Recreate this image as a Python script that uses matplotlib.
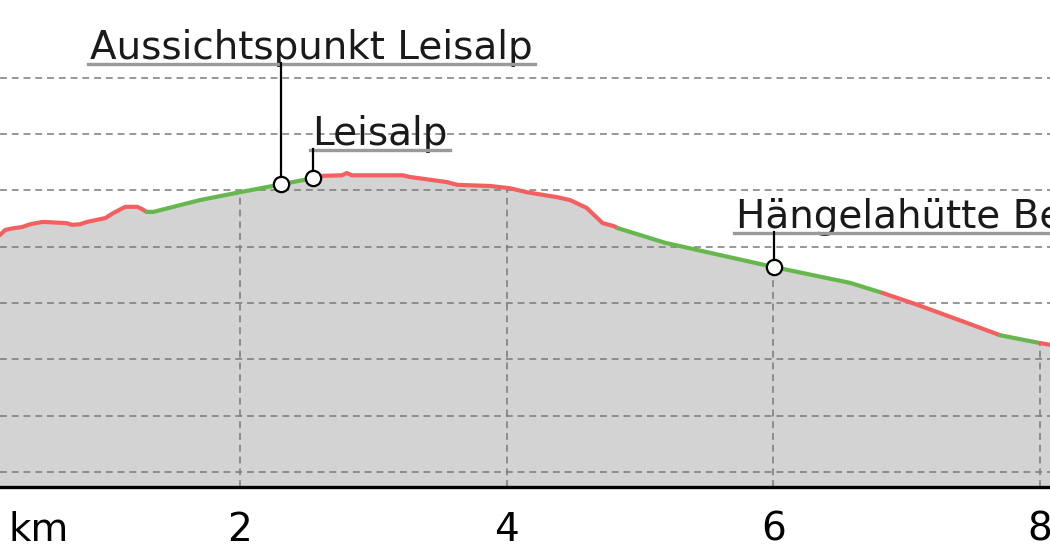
import numpy as np
import matplotlib
matplotlib.use("Agg")
import matplotlib.pyplot as plt
from matplotlib.lines import Line2D

# ---------------- data ----------------
dist_km = [0.20, 0.24, 0.30, 0.365, 0.425, 0.515, 0.54, 0.70, 0.74, 0.80, 0.85, 0.93, 0.99,
           1.05, 1.14, 1.23, 1.265, 1.30, 1.35, 1.50, 1.70, 2.00, 2.31, 2.55, 2.585, 2.62,
           2.765, 2.80, 2.84, 3.22, 3.275, 3.55, 3.63, 3.875, 4.025, 4.15, 4.38, 4.475, 4.60,
           4.68, 4.72, 4.80, 4.835, 5.19, 6.005, 6.575, 6.82, 7.08, 7.45, 7.70, 8.00, 8.075, 8.2]
elev_m = [1421, 1430, 1433, 1435, 1440, 1444, 1444, 1442, 1439, 1440, 1444, 1448, 1451,
          1460, 1471, 1471, 1467, 1462, 1462, 1471, 1483, 1497, 1511, 1522, 1524, 1526,
          1527, 1531, 1527, 1527, 1524, 1515, 1510, 1508, 1504, 1497, 1488, 1483, 1469,
          1451, 1442, 1437, 1433, 1407, 1364, 1336, 1318, 1297, 1265, 1243, 1229, 1226, 1222]

# colour segments: boundaries (km) and the colour of each segment
segment_breaks = [0.20, 1.30, 2.585, 4.835, 6.82, 7.70, 8.00, 8.2]
segment_kind = ["red", "green", "red", "green", "red", "green", "red"]

poi_names = ["Aussichtspunkt Leisalp", "Leisalp", "Hängelahütte Berghaus"]
poi_km = [2.31, 2.55, 6.005]

x_ticks = [2, 4, 6, 8]
x_tick_labels = ["2", "4", "6", "8"]
grid_levels = [1000, 1100, 1200, 1300, 1400, 1500, 1600, 1700]

# ---------------- style ----------------
RED = "#f45f5f"
GREEN = "#66b84e"
FILL = "#d3d3d3"
GRID = "#7a7a7a"
FS = 28

fig = plt.figure(figsize=(10.5, 5.6), dpi=100)
ax = fig.add_axes([0, 73 / 560, 1, 487 / 560])
ax.set_xlim(0.2, 8.075)
ax.set_ylim(973.4, 1838.3)
for s in ax.spines.values():
    s.set_visible(False)
ax.set_yticks([])

x = np.array(dist_km)
y = np.array(elev_m)
ax.fill_between(x, y, 900, color=FILL, lw=0, zorder=1)

# horizontal dashed grid
for g in grid_levels:
    ax.axhline(g, color=GRID, lw=1.1, linestyle=(0, (4.5, 3.2)), zorder=2)
# vertical dashed grid under profile
ax.vlines(x_ticks, 973.4, np.interp(x_ticks, x, y), color=GRID, lw=1.1,
          linestyles=[(0, (4.5, 3.2))], zorder=2)

# baseline
ax.axhline(973.4, color="black", lw=2.4, zorder=5, clip_on=False)

# coloured profile
cmap = {"red": RED, "green": GREEN}
for i, kind in enumerate(segment_kind):
    a, b = segment_breaks[i], segment_breaks[i + 1]
    m = (x >= a - 1e-9) & (x <= b + 1e-9)
    ax.plot(x[m], y[m], color=cmap[kind], lw=3.0, solid_capstyle="round",
            solid_joinstyle="round", zorder=3)

# ticks
ax.set_xticks(x_ticks)
ax.set_xticklabels(x_tick_labels, fontsize=FS)
ax.tick_params(axis="x", length=0, pad=17)
fig.text(8 / 1050, 1 - 541 / 560, "km", fontsize=FS, ha="left", va="baseline")

# markers
poi_elev = np.interp(poi_km, x, y)
ax.plot(poi_km, poi_elev, "o", ms=11, mfc="white", mec="black", mew=1.6, zorder=6)

# labels (pixel offsets relative to marker: text left dx, underline height dy)
label_dx = [-191, -1, -38]
label_dy = [121, 29, 35]
fig.canvas.draw()
renderer = fig.canvas.get_renderer()
inv = fig.transFigure.inverted()
for name, kx, ey, dx, dy in zip(poi_names, poi_km, poi_elev, label_dx, label_dy):
    px, py = ax.transData.transform((kx, ey))
    t = ax.annotate(name, xy=(kx, ey), xytext=(dx, dy + 4), textcoords="offset pixels",
                    fontsize=FS, ha="left", va="baseline", color="#1a1a1a", zorder=7,
                    annotation_clip=False)
    fig.canvas.draw()
    bb = t.get_window_extent(renderer)
    uy = py + dy
    p1 = inv.transform((bb.x0 - 2, uy - 1))
    p2 = inv.transform((bb.x1 + 2, uy - 1))
    fig.add_artist(Line2D([p1[0], p2[0]], [p1[1], p2[1]], color="#9a9a9a", lw=2.4, zorder=6))
    q1 = inv.transform((px, py + 7))
    q2 = inv.transform((px, uy))
    fig.add_artist(Line2D([q1[0], q2[0]], [q1[1], q2[1]], color="black", lw=1.6, zorder=6))

fig.savefig("out.png", dpi=100)
